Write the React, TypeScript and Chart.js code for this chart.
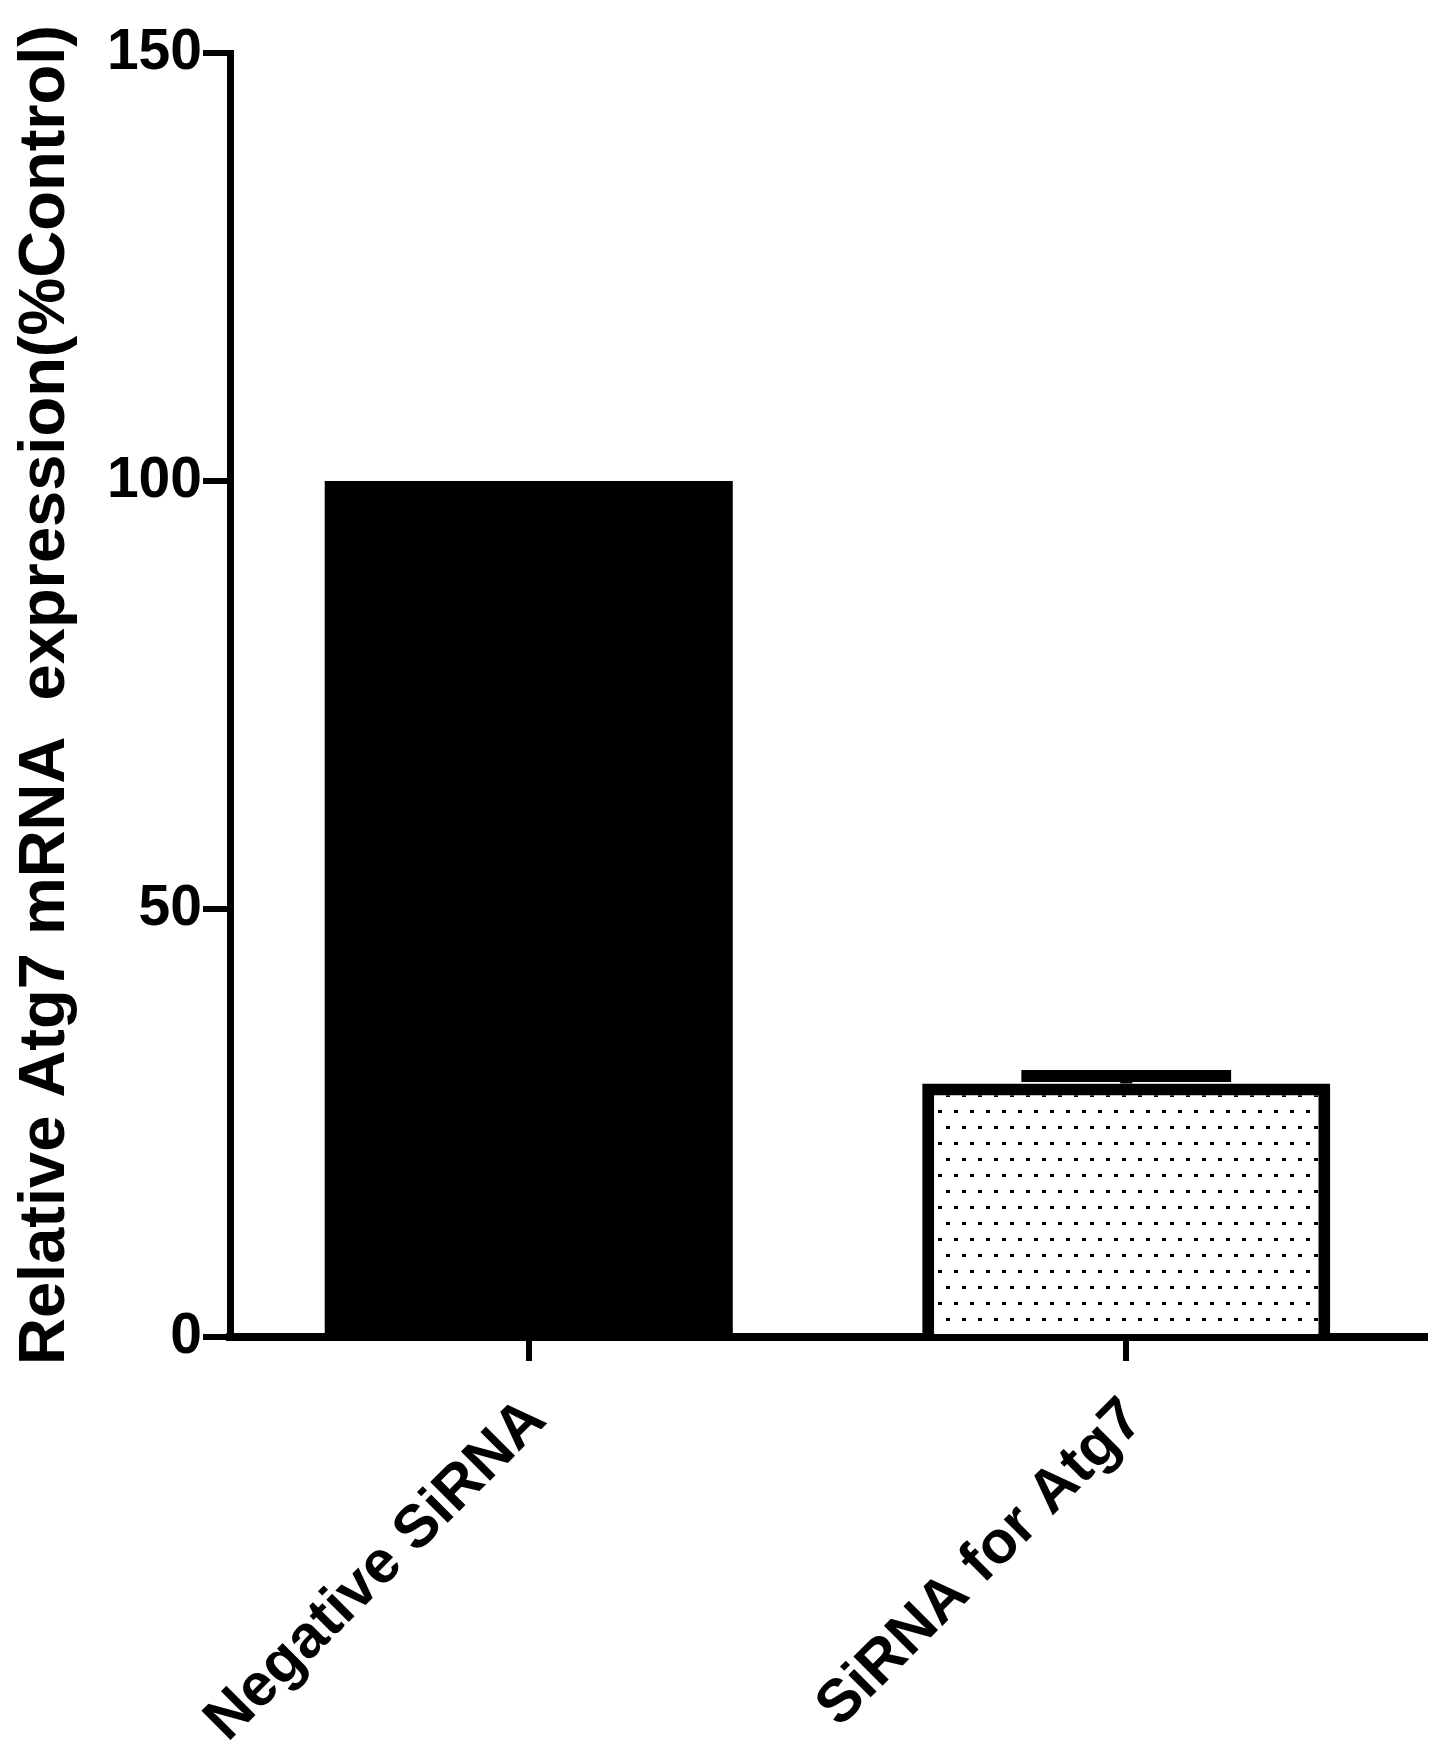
import React, { useEffect, useRef } from "react";
import { Chart, registerables } from "chart.js";

Chart.register(...registerables);

const categories = ["Negative SiRNA", "SiRNA for Atg7"];
const meanValues = [100, 29.6];
const semValues = [0, 0.9];
const yTicks = [0, 50, 100, 150];
const yAxisTitle = "Relative Atg7 mRNA  expression(%Control)";

const FONT = "'Liberation Sans', Arial, Helvetica, sans-serif";

function makeDotPattern(): CanvasPattern | string {
  const c = document.createElement("canvas");
  c.width = 16;
  c.height = 32;
  const ctx = c.getContext("2d");
  if (!ctx) return "#ffffff";
  ctx.fillStyle = "#ffffff";
  ctx.fillRect(0, 0, 16, 32);
  ctx.fillStyle = "#000000";
  ctx.fillRect(2, 6, 4, 3);
  ctx.fillRect(10, 22, 4, 3);
  const p = ctx.createPattern(c, "repeat");
  return p || "#ffffff";
}

const errorBarPlugin = {
  id: "errorBars",
  afterDatasetsDraw(chart: any) {
    const meta = chart.getDatasetMeta(0);
    const y = chart.scales.y;
    const ctx = chart.ctx;
    ctx.save();
    ctx.strokeStyle = "#000";
    ctx.lineWidth = 12;
    ctx.lineCap = "butt";
    meta.data.forEach((el: any, i: number) => {
      const err = semValues[i];
      if (!err) return;
      const props = el.getProps(["x", "width"], true);
      const yv = y.getPixelForValue(meanValues[i]);
      const yt = y.getPixelForValue(meanValues[i] + err);
      const half = props.width * 0.257;
      ctx.beginPath();
      ctx.moveTo(props.x, yv);
      ctx.lineTo(props.x, yt);
      ctx.moveTo(props.x - half, yt);
      ctx.lineTo(props.x + half, yt);
      ctx.stroke();
    });
    ctx.restore();
  },
};

export default function App() {
  const canvasRef = useRef<HTMLCanvasElement | null>(null);

  useEffect(() => {
    const canvas = canvasRef.current;
    if (!canvas) return;
    const pattern = makeDotPattern();
    const chart = new Chart(canvas, {
      type: "bar",
      data: {
        labels: categories,
        datasets: [
          {
            data: meanValues,
            backgroundColor: ["#000000", pattern as any],
            borderColor: "#000000",
            borderWidth: [0, 12],
            borderSkipped: "start",
            categoryPercentage: 1,
            barPercentage: 0.683,
          },
        ],
      },
      options: {
        responsive: false,
        animation: false,
        layout: { padding: { left: 0, right: 16, top: 53, bottom: 0 } },
        plugins: {
          legend: { display: false },
          tooltip: { enabled: false },
        },
        scales: {
          x: {
            type: "category",
            offset: true,
            grid: {
              display: true,
              drawOnChartArea: false,
              drawTicks: true,
              tickLength: 24,
              lineWidth: 6,
              color: "#000",
              offset: false,
            },
            border: { display: true, color: "#000", width: 8 },
            ticks: {
              color: "#000",
              font: { family: FONT, size: 60, weight: "bold" },
              minRotation: 45,
              maxRotation: 45,
              padding: 24,
              labelOffset: 8,
              autoSkip: false,
            },
            afterFit: (s: any) => {
              s.height = 424;
            },
          },
          y: {
            min: 0,
            max: 150,
            afterBuildTicks: (s: any) => {
              s.ticks = yTicks.map((v) => ({ value: v }));
            },
            ticks: {
              color: "#000",
              font: { family: FONT, size: 57, weight: "bold" },
              padding: 1,
            },
            grid: {
              drawOnChartArea: false,
              drawTicks: true,
              tickLength: 27,
              lineWidth: 6,
              color: "#000",
            },
            border: { display: true, color: "#000", width: 7 },
            title: {
              display: true,
              text: yAxisTitle,
              color: "#000",
              font: { family: FONT, size: 65, weight: "bold" },
              padding: { top: 7, bottom: 0 },
            },
            afterFit: (s: any) => {
              s.width = 230;
            },
          },
        },
      } as any,
      plugins: [errorBarPlugin],
    });
    return () => chart.destroy();
  }, []);

  return (
    <div
      style={{
        position: "absolute",
        left: 0,
        top: 0,
        width: 1441,
        height: 1761,
        background: "#ffffff",
      }}
    >
      <canvas ref={canvasRef} width={1441} height={1761} style={{ display: "block" }} />
    </div>
  );
}
